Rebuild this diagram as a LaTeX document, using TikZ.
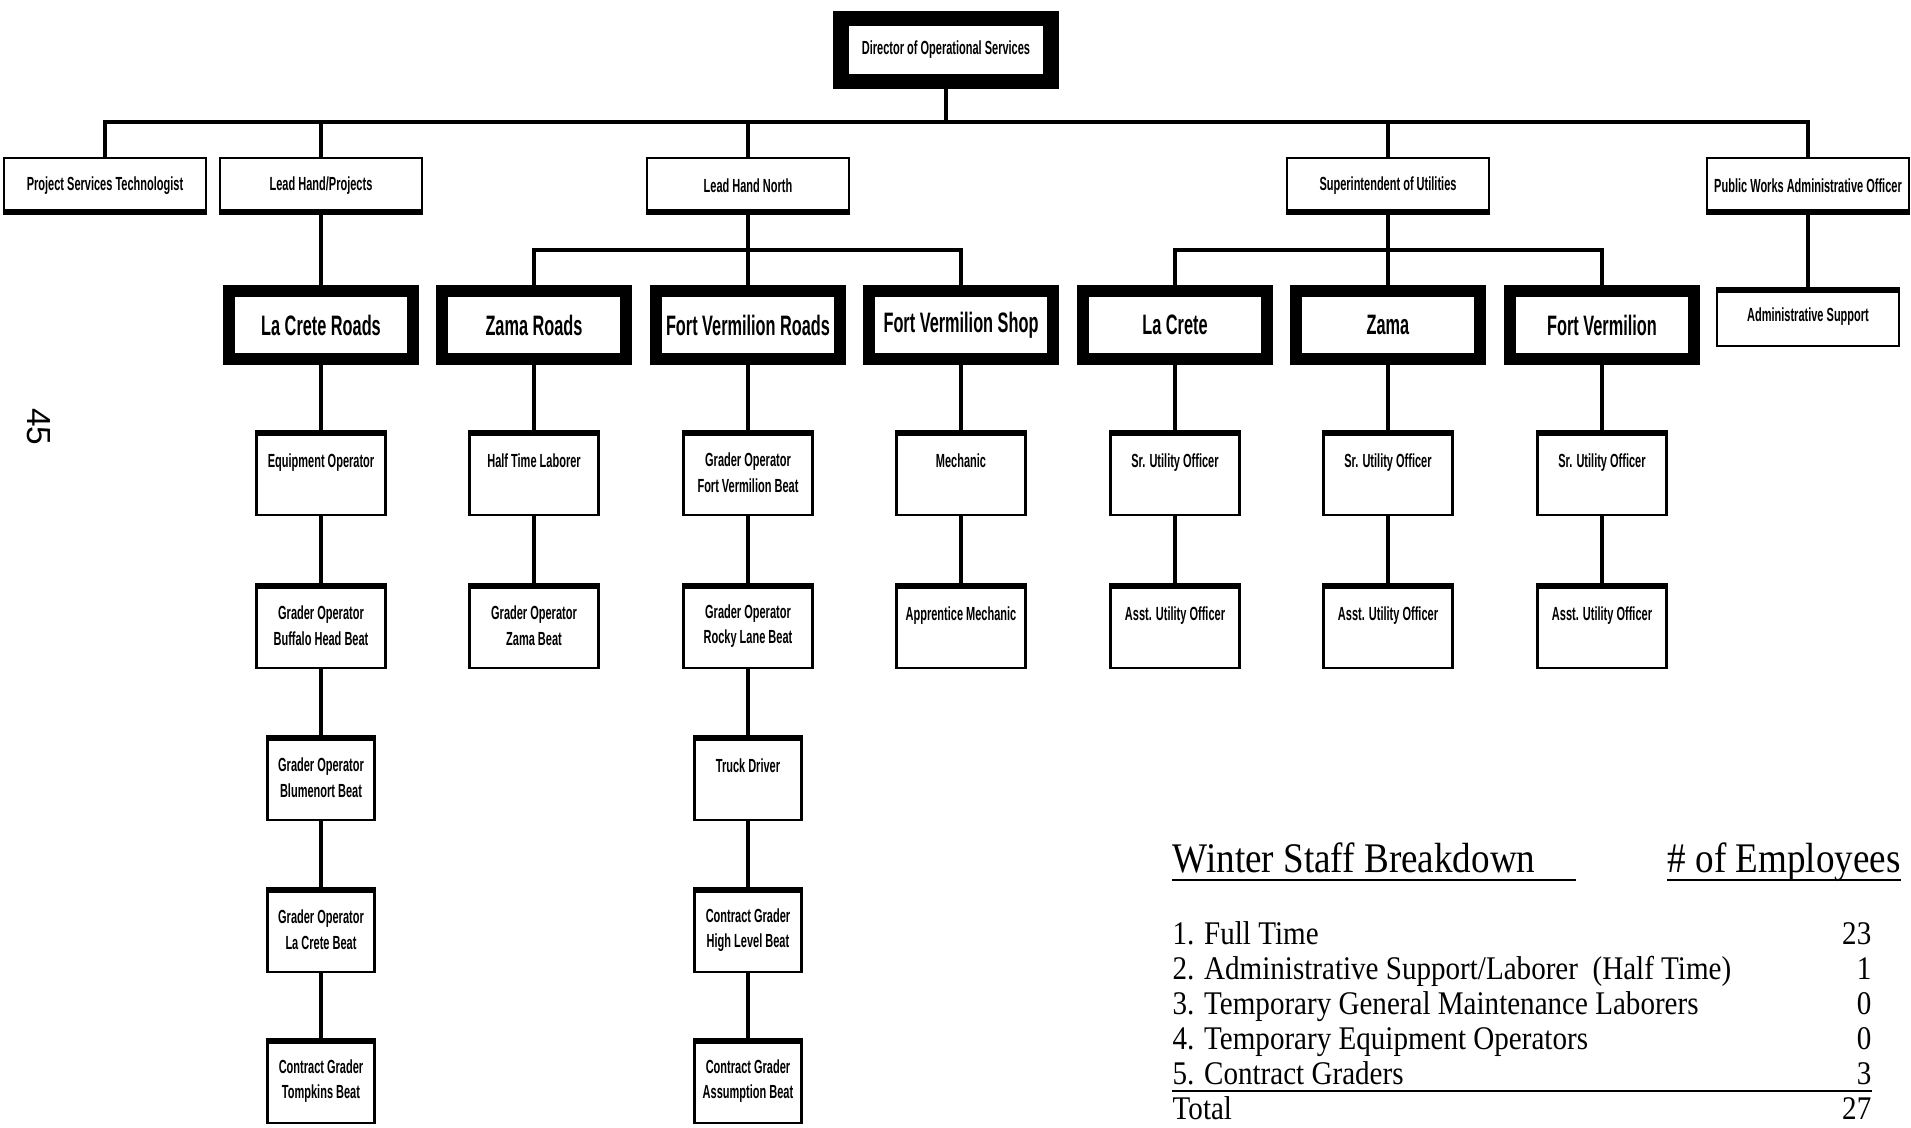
\documentclass[tikz,border=0pt]{standalone}
\usepackage{fontspec}
\setmainfont{Liberation Serif}
\setsansfont{Liberation Sans}
\newfontfamily\chartfont[FakeStretch=0.58]{Liberation Sans}
\newfontfamily\sheetfont[FakeStretch=0.88]{Liberation Serif}
\tikzset{
	% connector lines
	wire/.style={line width=0.9pt},
	rule/.style={line width=0.8pt},
	% the boxes of the chart
	topbox/.style={draw,line width=4.5pt,fill=white,minimum width=21mm,minimum height=6.3mm,inner sep=0pt,
		font=\chartfont\bfseries\fontsize{5.4}{7}\selectfont},
	leadbox/.style={draw,line width=0.8pt,fill=white,minimum width=20.2mm,minimum height=5.6mm,inner sep=0pt,
		font=\chartfont\bfseries\fontsize{5.4}{7}\selectfont,
		path picture={\fill[black] (path picture bounding box.south west) rectangle ([yshift=0.5mm]path picture bounding box.south east);}},
	unitbox/.style={draw,line width=3.4pt,fill=white,minimum width=18.4mm,minimum height=6.8mm,inner sep=0pt,
		font=\chartfont\bfseries\fontsize{8}{9.6}\selectfont},
	staffbox/.style={draw,line width=0.8pt,fill=white,minimum width=12.9mm,minimum height=8.4mm,inner sep=0pt,align=center,
		font=\chartfont\bfseries\fontsize{5.4}{7.3}\selectfont,
		path picture={\fill[black] ([yshift=-0.5mm]path picture bounding box.north west) rectangle (path picture bounding box.north east);}},
	narrowbox/.style={minimum width=10.7mm},
	% the staff table
	sheet/.style={inner sep=0pt,font=\sheetfont\fontsize{9.4}{10}\selectfont},
	sheethead/.style={inner sep=0pt,font=\sheetfont\fontsize{12}{14}\selectfont},
}

\begin{document}
\begin{tikzpicture}[x=0.1mm,y=-0.1mm]
\useasboundingbox (0,0) rectangle (1911,1128);
% page number
\node[rotate=-90,inner sep=0pt,font=\sffamily\fontsize{9.5}{11}\selectfont] (page) at (39,427) {45};
% director and the people below
\node[topbox] (dir) at (946,50) {Director of Operational Services};
\node[leadbox] (pst) at (105,186) {Project Services Technologist};
\node[leadbox] (lhp) at (321,186) {Lead Hand/Projects};
\node[leadbox] (lhn) at (748,186) {Lead Hand North};
\node[leadbox] (sou) at (1388,186) {Superintendent of Utilities};
\node[leadbox] (pwao) at (1808,186) {Public Works Administrative Officer};
% the units
\node[unitbox] (lcr) at (321,325) {La Crete Roads};
\node[unitbox] (zr) at (534,325) {Zama Roads};
\node[unitbox] (fvr) at (748,325) {Fort Vermilion Roads};
\node[unitbox] (fvs) at (961,325) {Fort Vermilion Shop};
\node[unitbox] (lc) at (1175,325) {La Crete};
\node[unitbox] (za) at (1388,325) {Zama};
\node[unitbox] (fv) at (1602,325) {Fort Vermilion};
\node[staffbox,minimum width=18.2mm,minimum height=5.8mm] (as) at (1808,317) {Administrative Support};
% La Crete Roads
\node[staffbox] (lcr1) at (321,473) {Equipment Operator\\\mbox{}};
\node[staffbox] (lcr2) at (321,626) {Grader Operator\\Buffalo Head Beat};
\node[staffbox,narrowbox] (lcr3) at (321,778) {Grader Operator\\Blumenort Beat};
\node[staffbox,narrowbox] (lcr4) at (321,930) {Grader Operator\\La Crete Beat};
\node[staffbox,narrowbox] (lcr5) at (321,1081) {Contract Grader\\Tompkins Beat};
% Zama Roads
\node[staffbox] (zr1) at (534,473) {Half Time Laborer\\\mbox{}};
\node[staffbox] (zr2) at (534,626) {Grader Operator\\Zama Beat};
% Fort Vermilion Roads
\node[staffbox] (fvr1) at (748,473) {Grader Operator\\Fort Vermilion Beat};
\node[staffbox] (fvr2) at (748,626) {Grader Operator\\Rocky Lane Beat};
\node[staffbox,narrowbox] (fvr3) at (748,778) {Truck Driver\\\mbox{}};
\node[staffbox,narrowbox] (fvr4) at (748,930) {Contract Grader\\High Level Beat};
\node[staffbox,narrowbox] (fvr5) at (748,1081) {Contract Grader\\Assumption Beat};
% Fort Vermilion Shop
\node[staffbox] (fvs1) at (961,473) {Mechanic\\\mbox{}};
\node[staffbox] (fvs2) at (961,626) {Apprentice Mechanic\\\mbox{}};
% utilities
\foreach \u in {lc,za,fv} {
  \node[staffbox] (\u1) at (\u |- 0,473) {Sr. Utility Officer\\\mbox{}};
  \node[staffbox] (\u2) at (\u |- 0,626) {Asst. Utility Officer\\\mbox{}};
}
% connectors
\coordinate (bus) at (0,122);
\coordinate (sub) at (0,250);
\draw[wire] (pst) |- (pwao |- bus) -- (pwao);
\foreach \n in {dir,lhp,lhn,sou}
  \draw[wire] (\n) -- (\n |- bus);
\draw[wire] (zr) |- (fvs |- sub) -- (fvs);
\draw[wire] (lc) |- (fv |- sub) -- (fv);
\foreach \n in {lhn,fvr,sou,za}
  \draw[wire] (\n) -- (\n |- sub);
\foreach \a/\b in {lhp/lcr,pwao/as,lcr/lcr1,lcr1/lcr2,lcr2/lcr3,lcr3/lcr4,lcr4/lcr5,zr/zr1,zr1/zr2,
    fvr/fvr1,fvr1/fvr2,fvr2/fvr3,fvr3/fvr4,fvr4/fvr5,fvs/fvs1,fvs1/fvs2,lc/lc1,lc1/lc2,za/za1,za1/za2,fv/fv1,fv1/fv2}
  \draw[wire] (\a) -- (\b);
% winter staff table
\node[sheethead,anchor=base west] (wsb) at (1172,872) {Winter Staff Breakdown};
\node[sheethead,anchor=base west] (noe) at (1667,872) {\# of Employees};
\draw[rule] ([yshift=-0.8mm]wsb.base west) -- ++(404,0);
\draw[rule] ([yshift=-0.8mm]noe.base west) -- ([yshift=-0.8mm]noe.base east);
\foreach \t/\n [count=\k] in {1. Full Time/23,{2. Administrative Support/Laborer\ \ (Half Time)}/1,
    3. Temporary General Maintenance Laborers/0,4. Temporary Equipment Operators/0,5. Contract Graders/3,Total/27} {
  \node[sheet,anchor=base west] (item\k) at (1172,909+35*\k) {\t};
  \node[sheet,anchor=base east] (count\k) at (1872,909+35*\k) {\n};
}
\draw[rule] ([yshift=-0.7mm]item5.base west) -- ([yshift=-0.7mm]count5.base east);
\end{tikzpicture}
\end{document}
